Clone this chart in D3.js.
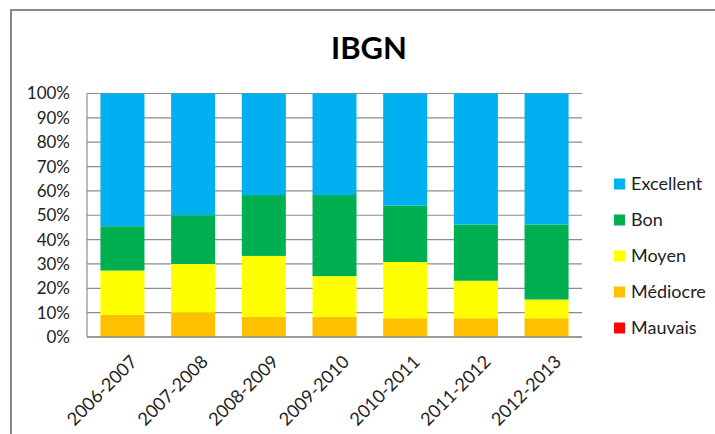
<!DOCTYPE html>
<html>
<head>
<meta charset="utf-8">
<script src="https://cdn.jsdelivr.net/npm/d3@7"></script>
<style>
  body { margin: 0; background: #fff; }
  text { font-family: Lato, "Open Sans", sans-serif; fill: #222; }
</style>
</head>
<body>
<div class="plot"></div>
<script>
// values in % of samples per season
const seasons = ['2006-2007', '2007-2008', '2008-2009', '2009-2010', '2010-2011', '2011-2012', '2012-2013'];
const mauvais   = [0, 0, 0, 0, 0, 0, 0];
const mediocre  = [9.1, 10, 8.3, 8.3, 7.7, 7.7, 7.7];
const moyen     = [18.2, 20, 25, 16.7, 23.1, 15.4, 7.7];
const bon       = [18.2, 20, 25, 33.3, 23.1, 23.1, 30.8];
const excellent = [54.5, 50, 41.7, 41.7, 46.1, 53.8, 53.8];
const yTicks = [0, 10, 20, 30, 40, 50, 60, 70, 80, 90, 100];

const series = [
    { name: 'Mauvais', values: mauvais, color: '#FF0000' },
    { name: 'Médiocre', values: mediocre, color: '#FFC000' },
    { name: 'Moyen', values: moyen, color: '#FFFF00' },
    { name: 'Bon', values: bon, color: '#00B050' },
    { name: 'Excellent', values: excellent, color: '#00B0F0' }
];

const W = 715, H = 434;
const plotL = 87, plotR = 582, plotT = 93.5, plotB = 337;

const svg = d3.select('.plot')
    .append('svg')
    .attr('width', W)
    .attr('height', H);

// chart border
svg.append('rect')
    .attr('x', 11).attr('y', 10)
    .attr('width', 800).attr('height', 600)
    .attr('fill', 'none')
    .attr('stroke', '#888')
    .attr('stroke-width', 2);

svg.append('text')
    .text('IBGN')
    .attr('x', 369).attr('y', 59)
    .attr('text-anchor', 'middle')
    .attr('font-size', '31px')
    .attr('font-weight', 'bold')
    .style('fill', '#000');

const x = d3.scaleBand()
    .domain(seasons)
    .range([plotL, plotR])
    .paddingInner(0.377)
    .paddingOuter(0.19);

const y = d3.scaleLinear()
    .domain([0, 100])
    .range([plotB, plotT]);

// gridlines
svg.append('g')
    .selectAll('line')
    .data(yTicks)
    .enter()
    .append('line')
    .attr('x1', plotL).attr('x2', plotR)
    .attr('y1', d => y(d)).attr('y2', d => y(d))
    .attr('stroke', '#8c8c8c')
    .attr('stroke-width', 1.2);

svg.append('line')
    .attr('x1', plotL).attr('x2', plotL)
    .attr('y1', plotT).attr('y2', plotB)
    .attr('stroke', '#8c8c8c')
    .attr('stroke-width', 1.2);

// stacked bars
const rows = seasons.map((s, i) => {
    const r = { season: s };
    series.forEach(se => r[se.name] = se.values[i]);
    return r;
});
const stack = d3.stack().keys(series.map(s => s.name))(rows);

svg.append('g')
    .selectAll('g')
    .data(stack)
    .enter()
    .append('g')
    .attr('fill', (d, i) => series[i].color)
    .selectAll('rect')
    .data(d => d)
    .enter()
    .append('rect')
    .attr('x', d => x(d.data.season))
    .attr('width', x.bandwidth())
    .attr('y', d => y(d[1]))
    .attr('height', d => y(d[0]) - y(d[1]));

// y axis labels
const yAxis = d3.axisLeft(y)
    .tickValues(yTicks)
    .tickFormat(d => d + '%')
    .tickSize(0)
    .tickPadding(17);

svg.append('g')
    .attr('transform', `translate(${plotL}, 0)`)
    .call(yAxis)
    .call(g => g.select('.domain').remove())
    .selectAll('text')
    .attr('font-size', '17px')
    .style('font-family', 'Lato, "Open Sans", sans-serif')
    .style('fill', '#222');

svg.append('line')
    .attr('x1', plotL).attr('x2', plotR)
    .attr('y1', plotB).attr('y2', plotB)
    .attr('stroke', '#8c8c8c')
    .attr('stroke-width', 1.5);

// x labels, rotated
svg.append('g')
    .selectAll('text')
    .data(seasons)
    .enter()
    .append('text')
    .text(d => d)
    .attr('text-anchor', 'end')
    .attr('font-size', '18px')
    .attr('transform', d => `translate(${x(d) + x.bandwidth() / 2 + 7}, 354) rotate(-45)`)
    .attr('dy', '0.7em');

// legend
const legend = svg.append('g')
    .selectAll('g')
    .data(series.slice().reverse())
    .enter()
    .append('g')
    .attr('transform', (d, i) => `translate(614, ${184 + i * 36})`);

legend.append('rect')
    .attr('width', 11).attr('height', 11)
    .attr('y', -5.5)
    .attr('fill', d => d.color);

legend.append('text')
    .text(d => d.name)
    .attr('x', 17)
    .attr('dy', '0.35em')
    .attr('font-size', '18px');
</script>
</body>
</html>
